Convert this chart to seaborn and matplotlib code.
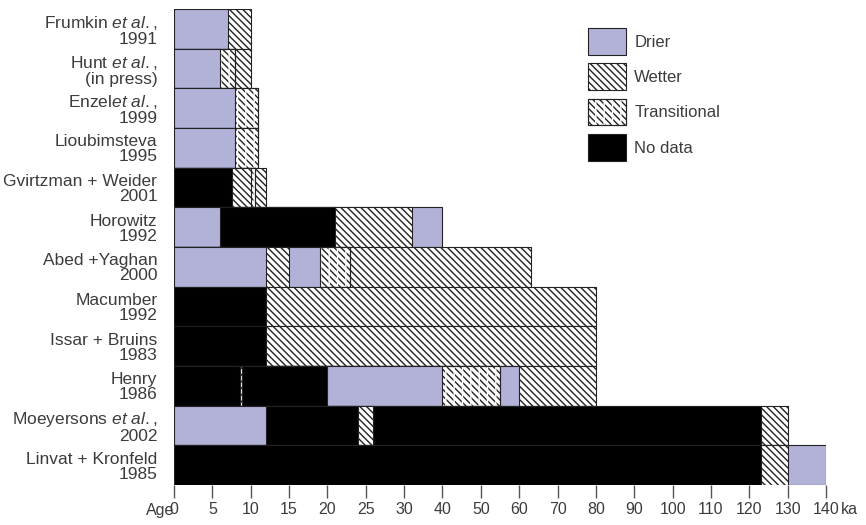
import numpy as np
import matplotlib.pyplot as plt
import seaborn as sns
from matplotlib.patches import Patch
from matplotlib.legend_handler import HandlerTuple

# one row per study, top to bottom
studies = ["Frumkin", "Hunt", "Enzel", "Lioubimsteva", "Gvirtzman", "Horowitz",
           "Abed", "Macumber", "Issar", "Henry", "Moeyersons", "Linvat"]
row_labels = ["Frumkin $\\it{et\\ al.}$,\n1991", "Hunt$\\it{\\ et\\ al.}$,\n(in press)",
              "Enzel$\\it{et\\ al.}$,\n1999", "Lioubimsteva\n1995",
              "Gvirtzman + Weider\n2001", "Horowitz\n1992", "Abed +Yaghan\n2000",
              "Macumber\n1992", "Issar + Bruins\n1983", "Henry\n1986",
              "Moeyersons $\\it{et\\ al.}$,\n2002", "Linvat + Kronfeld\n1985"]

# end of each segment (ka) and its climate class
seg_ends = [[7, 10],
            [6, 8, 10],
            [8, 11],
            [8, 11],
            [7.5, 10, 10.5, 12],
            [6, 21, 32, 40],
            [12, 15, 19, 23, 63],
            [12, 80],
            [12, 80],
            [8.6, 8.9, 20, 40, 55, 60, 80],
            [12, 24, 26, 123, 130],
            [123, 130, 140]]
seg_kinds = [["Drier", "Wetter"],
             ["Drier", "Transitional", "Wetter"],
             ["Drier", "Transitional"],
             ["Drier", "Transitional"],
             ["No data", "Wetter", "Transitional", "Wetter"],
             ["Drier", "No data", "Wetter", "Drier"],
             ["Drier", "Wetter", "Drier", "Transitional", "Wetter"],
             ["No data", "Wetter"],
             ["No data", "Wetter"],
             ["No data", "Wetter", "No data", "Drier", "Transitional", "Drier", "Wetter"],
             ["Drier", "No data", "Wetter", "No data", "Wetter"],
             ["No data", "Wetter", "Drier"]]

tick_vals = [0, 5, 10, 15, 20, 25, 30, 40, 50, 60, 70, 80, 90, 100, 110, 120, 130, 140]

DRIER = "#b2b2d9"
EDGE = "#222222"
TXT = "#3c3c3c"
HATCH = "\\" * 5
GAPS = "||"

sns.set_theme(style="white")
plt.rcParams['font.family'] = ['Liberation Sans', 'DejaVu Sans']
plt.rcParams['mathtext.fontset'] = 'custom'
plt.rcParams['mathtext.rm'] = 'Liberation Sans'
plt.rcParams['mathtext.it'] = 'Liberation Sans:italic'
plt.rcParams['hatch.linewidth'] = 1.0

fig = plt.figure(figsize=(8.66, 5.25), dpi=100)
ax = fig.add_axes([174 / 866, 40 / 525, 652 / 866, 476 / 525])


def draw_segment(i, end, kind):
    face = {"Drier": DRIER, "Wetter": "white", "Transitional": "white", "No data": "black"}[kind]
    hatch = HATCH if kind in ("Wetter", "Transitional") else None
    sns.barplot(x=[end], y=[studies[i]], order=studies, orient="h", color=face,
                saturation=1, width=1.0, errorbar=None, edgecolor=EDGE,
                linewidth=0.8, hatch=hatch, ax=ax)
    if kind == "Transitional":
        # break the diagonals into short dashes
        ax.barh(i, end, height=1.0, facecolor="none", edgecolor="white",
                hatch=GAPS, linewidth=0)
        ax.barh(i, end, height=1.0, facecolor="none", edgecolor=EDGE, linewidth=0.8)


# draw back to front so earlier segments cover the later ones
for i in range(len(studies)):
    for end, kind in reversed(list(zip(seg_ends[i], seg_kinds[i]))):
        draw_segment(i, end, kind)


# x axis: 5 ka steps up to 30, then 10 ka steps at the same spacing
def fwd(x):
    x = np.asarray(x, dtype=float)
    return np.where(x <= 30, x / 5, 6 + (x - 30) / 10)


def inv(y):
    y = np.asarray(y, dtype=float)
    return np.where(y <= 6, y * 5, 30 + (y - 6) * 10)


ax.set_xscale("function", functions=(fwd, inv))
ax.set_xlim(0, 140)
ax.set_ylim(len(studies) - 0.5, -0.5)
ax.set_yticks(range(len(studies)))
ax.set_yticklabels(row_labels, linespacing=1.0)
ax.set_xlabel("")
ax.set_ylabel("")
for spine in ax.spines.values():
    spine.set_visible(False)
ax.tick_params(axis="y", left=False, labelsize=12.5, labelcolor=TXT, pad=6)
ax.tick_params(axis="x", bottom=False, labelbottom=False)

# age ticks hang below the bars: x in data units, y in axes fraction
xtrans = ax.get_xaxis_transform()
tick_len = 13 / 476
ax.vlines(tick_vals, -tick_len, 0, transform=xtrans, colors="#555555",
          linewidth=1, clip_on=False)
label_y = -25 / 476
for v in tick_vals:
    ax.text(v, label_y, str(v), transform=xtrans, ha="center", va="center",
            fontsize=11.5, color=TXT, clip_on=False)
ax.text(0, label_y, "Age", transform=xtrans, ha="right", va="center",
        fontsize=11.5, color=TXT, clip_on=False)
ax.annotate("ka", xy=(140, label_y), xycoords=xtrans, xytext=(11, 0),
            textcoords="offset points", ha="left", va="center",
            fontsize=11.5, color=TXT, annotation_clip=False)

handles = [
    Patch(facecolor=DRIER, edgecolor=EDGE, linewidth=0.8),
    Patch(facecolor="white", edgecolor=EDGE, hatch=HATCH, linewidth=0.8),
    (Patch(facecolor="white", edgecolor=EDGE, hatch=HATCH, linewidth=0.8),
     Patch(facecolor="none", edgecolor="white", hatch=GAPS, linewidth=0),
     Patch(facecolor="none", edgecolor=EDGE, linewidth=0.8)),
    Patch(facecolor="black", edgecolor=EDGE, linewidth=0.8),
]
ax.legend(handles, ["Drier", "Wetter", "Transitional", "No data"],
          handler_map={tuple: HandlerTuple(ndivide=1, pad=0)},
          loc="upper left", bbox_to_anchor=(588 / 866, 1 - 28 / 525),
          bbox_transform=fig.transFigure, frameon=False, borderpad=0,
          borderaxespad=0, fontsize=12, labelcolor=TXT, handlelength=2.28,
          handleheight=2.11, labelspacing=0.5, handletextpad=0.5)

fig.savefig("out.png", dpi=100)
